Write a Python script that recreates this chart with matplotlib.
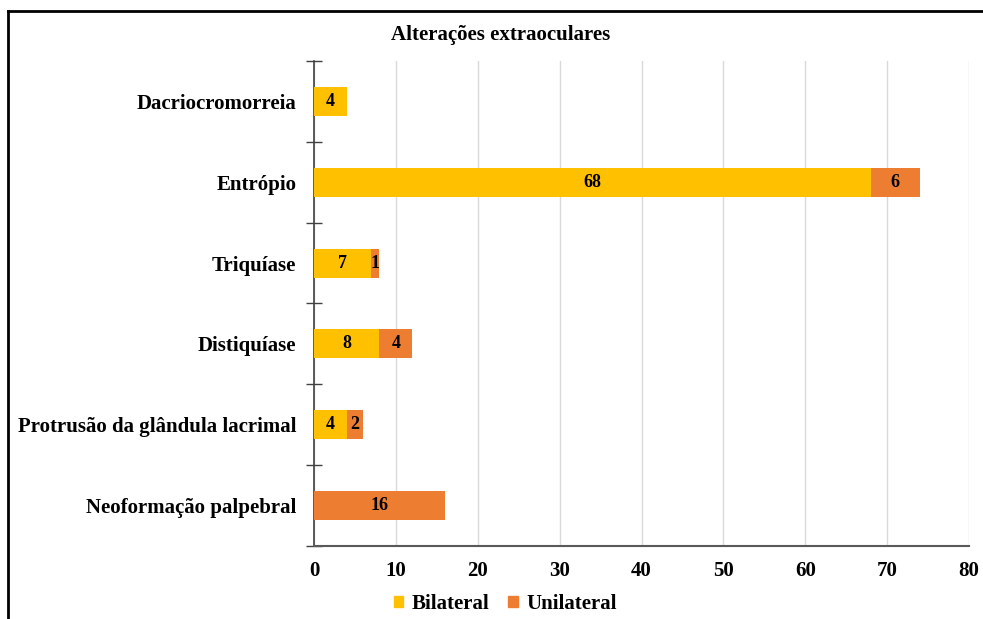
import numpy as np
import matplotlib.pyplot as plt
from matplotlib.lines import Line2D
from matplotlib.patches import Patch

plt.rcParams['font.family'] = ['Liberation Serif', 'DejaVu Serif']
plt.rcParams['font.weight'] = 'bold'

categorias = ['Dacriocromorreia', 'Entrópio', 'Triquíase', 'Distiquíase',
              'Protrusão da glândula lacrimal', 'Neoformação palpebral']
bilateral = [4, 68, 7, 8, 4, 0]
unilateral = [0, 6, 1, 4, 2, 16]
xticks = [0, 10, 20, 30, 40, 50, 60, 70, 80]

amarelo = '#FFC000'
laranja = '#ED7D31'

fig = plt.figure(figsize=(9.83, 6.19), dpi=100)
ax = fig.add_axes([0.3194, 0.1179, 0.6664, 0.7836])

y = np.arange(len(categorias))
h = 0.36
b1 = ax.barh(y, bilateral, height=h, color=amarelo, label='Bilateral', zorder=3)
b2 = ax.barh(y, unilateral, height=h, left=bilateral, color=laranja, label='Unilateral', zorder=3)

# rótulos de valor no centro de cada segmento
for bars in (b1, b2):
    for rect in bars:
        w = rect.get_width()
        if w > 0:
            ax.text(rect.get_x() + w / 2, rect.get_y() + rect.get_height() / 2,
                    f'{w:g}', ha='center', va='center', fontsize=13,
                    fontweight='bold', color='black', zorder=4)

ax.set_ylim(len(categorias) - 0.5, -0.5)
ax.set_xlim(0, 80)
ax.set_xticks(xticks)
ax.set_yticks(y)
ax.set_yticklabels(categorias, fontsize=15, fontweight='bold')
ax.set_yticks(np.arange(-0.5, len(categorias)), minor=True)
ax.tick_params(axis='y', which='major', length=0, pad=12.7)
ax.tick_params(axis='y', which='minor', direction='inout', length=12, width=1, color='#404040')
ax.tick_params(axis='x', length=0, labelsize=15, pad=11)
for lab in ax.get_xticklabels():
    lab.set_fontweight('bold')

ax.grid(axis='x', color='#D9D9D9', linewidth=1, zorder=0)
for s in ('top', 'right'):
    ax.spines[s].set_visible(False)
ax.spines['left'].set_color('#404040')
ax.spines['bottom'].set_color('#595959')
ax.spines['left'].set_linewidth(1.2)
ax.spines['bottom'].set_linewidth(1.5)

fig.text(0.509, 0.944, 'Alterações extraoculares', ha='center', va='center',
         fontsize=15, fontweight='bold')

handles = [Patch(color=amarelo), Patch(color=laranja)]
fig.legend(handles, ['Bilateral', 'Unilateral'], loc='center', bbox_to_anchor=(0.514, 0.024),
           ncol=2, frameon=False, fontsize=15, handlelength=0.45, handleheight=0.45,
           handletextpad=0.4, columnspacing=0.9)

# moldura
fig.add_artist(Line2D([0.008, 0.008], [0, 0.982], color='black', linewidth=2, transform=fig.transFigure))
fig.add_artist(Line2D([0.008, 1.0], [0.982, 0.982], color='black', linewidth=2, transform=fig.transFigure))

fig.savefig('out.png', dpi=100)
